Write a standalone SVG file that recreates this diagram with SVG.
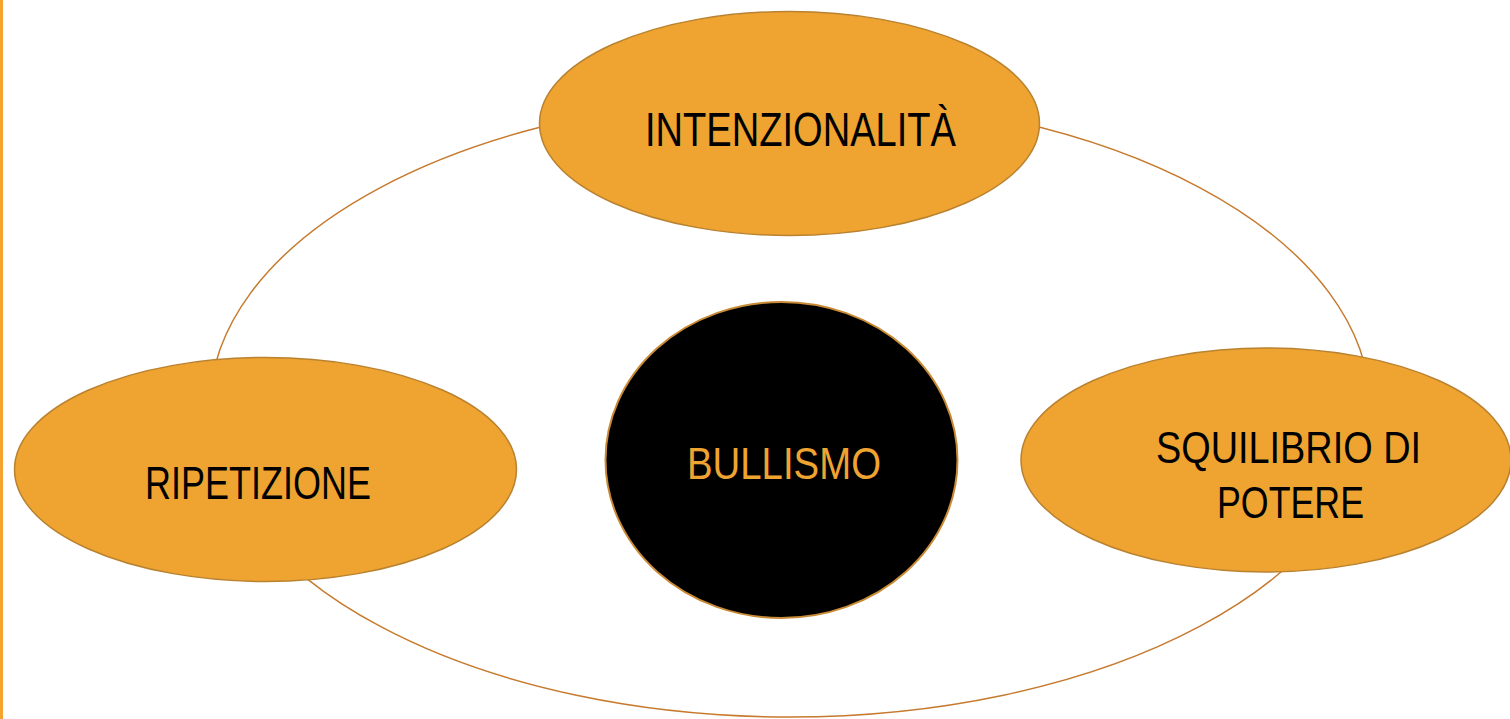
<svg xmlns="http://www.w3.org/2000/svg" width="1510" height="719" viewBox="0 0 1510 719">
<style>
.node{fill:#EFA330;stroke:#B98230;stroke-width:1.5}
.core{fill:#000000;stroke:#C98A35;stroke-width:2}
.ring{fill:none;stroke:#C67A2E;stroke-width:1.5}
.lbl{font-family:"Liberation Sans",Arial,sans-serif;fill:#000000}
.corelbl{font-family:"Liberation Sans",Arial,sans-serif;fill:#EFA330}
</style>
<rect x="0" y="0" width="1510" height="719" fill="#ffffff"/>
<rect x="0" y="0" width="3" height="719" fill="#F5A32F"/>
<g id="connectors">
<ellipse class="ring" cx="790" cy="407" rx="580" ry="310"/>
</g>
<g id="node-intenzionalita">
<ellipse class="node" cx="789.5" cy="123.5" rx="250" ry="112"/>
<text class="lbl" x="645" y="146" font-size="49" textLength="311" lengthAdjust="spacingAndGlyphs">INTENZIONALITÀ</text>
</g>
<g id="node-ripetizione">
<ellipse class="node" cx="265.5" cy="469.5" rx="251" ry="112"/>
<text class="lbl" x="145" y="499" font-size="46" textLength="226" lengthAdjust="spacingAndGlyphs">RIPETIZIONE</text>
</g>
<g id="node-squilibrio">
<ellipse class="node" cx="1266" cy="460" rx="245" ry="112"/>
<text class="lbl" x="1156" y="463" font-size="44" textLength="265" lengthAdjust="spacingAndGlyphs">SQUILIBRIO DI</text>
<text class="lbl" x="1217" y="518" font-size="44" textLength="147" lengthAdjust="spacingAndGlyphs">POTERE</text>
</g>
<g id="node-bullismo">
<ellipse class="core" cx="781.5" cy="460" rx="176" ry="158"/>
<text class="corelbl" x="687" y="479" font-size="45" textLength="194" lengthAdjust="spacingAndGlyphs">BULLISMO</text>
</g>
</svg>
